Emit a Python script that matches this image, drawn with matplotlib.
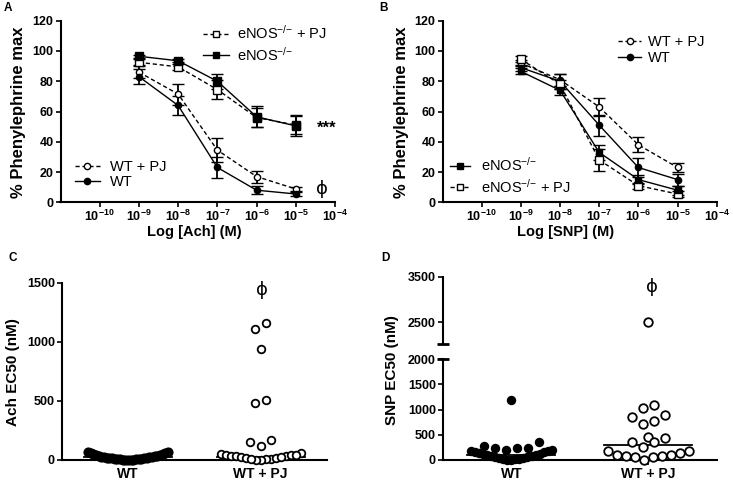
import numpy as np
import matplotlib
matplotlib.use('Agg')
import matplotlib.pyplot as plt
from matplotlib.lines import Line2D
from matplotlib.ticker import NullLocator

plt.rcParams['font.family'] = ['Liberation Sans', 'DejaVu Sans']
plt.rcParams['mathtext.fontset'] = 'custom'
plt.rcParams['mathtext.rm'] = 'Liberation Sans'
plt.rcParams['mathtext.bf'] = 'Liberation Sans:bold'
plt.rcParams['mathtext.default'] = 'regular'

# ---------------- data ----------------
conc = [1e-9, 1e-8, 1e-7, 1e-6, 1e-5]
log_ticks = [1e-10, 1e-9, 1e-8, 1e-7, 1e-6, 1e-5, 1e-4]
log_tick_labels = [r'$\mathbf{10^{-10}}$', r'$\mathbf{10^{-9}}$', r'$\mathbf{10^{-8}}$',
                   r'$\mathbf{10^{-7}}$', r'$\mathbf{10^{-6}}$', r'$\mathbf{10^{-5}}$',
                   r'$\mathbf{10^{-4}}$']
pe_ticks = [0, 20, 40, 60, 80, 100, 120]

# Panel A (Ach)
a_wt = [83, 64, 23, 8, 5.5]
a_wt_err = [5, 6, 7, 2.5, 1.5]
a_wtpj = [86, 71.5, 34.5, 17, 8.8]
a_wtpj_err = [4, 7, 8, 4, 1.5]
a_enos = [96.5, 93.5, 80, 56.5, 50.5]
a_enos_err = [1, 1, 5, 7, 7]
a_enospj = [92.5, 89.5, 74.5, 56, 51]
a_enospj_err = [2, 2, 6, 6, 6]

# Panel B (SNP)
b_wtpj = [92, 81, 63, 38, 23]
b_wtpj_err = [2, 4, 6, 5, 3]
b_wt = [89, 80, 51, 23, 15]
b_wt_err = [2, 5, 7, 6, 4]
b_enos = [86.5, 74, 33, 15, 8]
b_enos_err = [2, 3, 5, 3, 3]
b_enospj = [94.5, 78, 28, 11, 5.5]
b_enospj_err = [2, 3, 7, 2, 2]

# Panel C (Ach EC50, nM)
groups = ['WT', 'WT + PJ']
c_wt = [0, 1, 2, 3, 4, 5, 6, 8, 9, 10, 12, 13, 15, 16, 18, 20, 22, 24, 26, 28,
        30, 33, 36, 40, 44, 48, 52, 56, 60, 64, 68]
c_wtpj = [1155, 1110, 940, 505, 480, 170, 150, 120,
          62, 48, 42, 38, 35, 30, 25, 15, 10, 5, 0, 2, 8, 20, 28, 40, 45]
c_median = [25, 28]
c_ticks = [0, 500, 1000, 1500]

# Panel D (SNP EC50, nM)
d_wt = [1200, 350, 280, 230, 230, 230,
        200, 190, 185, 175, 160, 150, 135, 120, 110, 100, 90, 80, 70, 60, 50,
        40, 30, 20, 15, 10, 5, 0]
d_wtpj = [2500, 1090, 1040, 900, 860, 780, 720, 450, 440, 350, 350, 250,
          170, 170, 130, 90, 90, 80, 70, 60, 50, 0]
d_median = [100, 300]
d_ticks_low = [0, 500, 1000, 1500, 2000]
d_ticks_high = [2500, 3500]

# ---------------- figure ----------------
W, H = 733, 484
fig = plt.figure(figsize=(W / 100, H / 100), dpi=100)


def px_axes(l, t, r, b):
    return fig.add_axes([l / W, 1 - b / H, (r - l) / W, (b - t) / H])


SPW = 1.5
TICKFS = 9


def style(ax, bottom=True):
    for s in ['top', 'right']:
        ax.spines[s].set_visible(False)
    ax.spines['left'].set_linewidth(SPW)
    ax.spines['bottom'].set_linewidth(SPW)
    if not bottom:
        ax.spines['bottom'].set_visible(False)
    ax.tick_params(direction='out', length=3.5, width=1.2, labelsize=TICKFS, pad=1.5)
    for lab in ax.get_yticklabels() + ax.get_xticklabels():
        lab.set_fontweight('bold')


def curve(ax, y, err, filled, marker, dashed, ms):
    ax.errorbar(conc, y, yerr=err, color='black', lw=1.0,
                ls=(0, (3, 2)) if dashed else '-',
                marker=marker, ms=ms, mfc='black' if filled else 'white', mec='black', mew=1.0,
                ecolor='black', elinewidth=1.3, capsize=4.5, capthick=1.3, clip_on=False, zorder=3)


def log_panel(ax):
    ax.set_xscale('log')
    ax.set_xlim(1e-11, 1e-4)
    ax.set_ylim(0, 120)
    ax.set_xticks(log_ticks)
    ax.set_xticklabels(log_tick_labels)
    ax.xaxis.set_minor_locator(NullLocator())
    ax.set_yticks(pe_ticks)
    style(ax)


SUP = '$^{{-}/{-}}$'

# Panel A
axA = px_axes(60.5, 20.7, 335, 202.3)
log_panel(axA)
curve(axA, a_wtpj, a_wtpj_err, False, 'o', True, 4.5)
curve(axA, a_wt, a_wt_err, True, 'o', False, 4.5)
curve(axA, a_enospj, a_enospj_err, False, 's', True, 5.5)
curve(axA, a_enos, a_enos_err, True, 's', False, 5.5)

h_sq_open = Line2D([], [], color='k', lw=1, ls=(0, (3, 2)), marker='s', ms=5, mfc='white', mec='k')
h_sq_fill = Line2D([], [], color='k', lw=1, ls='-', marker='s', ms=5, mfc='k', mec='k')
h_ci_open = Line2D([], [], color='k', lw=1, ls=(0, (3, 2)), marker='o', ms=4.5, mfc='white', mec='k')
h_ci_fill = Line2D([], [], color='k', lw=1, ls='-', marker='o', ms=4.5, mfc='k', mec='k')

legA1 = axA.legend([h_sq_open, h_sq_fill], ['eNOS' + SUP + ' + PJ', 'eNOS' + SUP],
                   loc='upper left', bbox_to_anchor=(203 / W, 1 - 24 / H),
                   bbox_transform=fig.transFigure, frameon=False, fontsize=10.5,
                   handlelength=1.8, handletextpad=0.5, labelspacing=0.25, borderpad=0,
                   borderaxespad=0)
axA.add_artist(legA1)
axA.legend([h_ci_open, h_ci_fill], ['WT + PJ', 'WT'],
           loc='upper left', bbox_to_anchor=(75 / W, 1 - 160 / H),
           bbox_transform=fig.transFigure, frameon=False, fontsize=10.5,
           handlelength=1.7, handletextpad=0.7, labelspacing=0.1, borderpad=0,
           borderaxespad=0)
fig.text(327 / W, 1 - 128 / H, '***', ha='center', va='center', fontsize=12, fontweight='bold')
fig.text(322 / W, 1 - 189 / H, 'ϕ', ha='center', va='center', fontsize=13,
         family=['DejaVu Sans'])

# Panel B
axB = px_axes(442.5, 20.7, 716.7, 202.3)
log_panel(axB)
curve(axB, b_wtpj, b_wtpj_err, False, 'o', True, 4.5)
curve(axB, b_wt, b_wt_err, True, 'o', False, 4.5)
curve(axB, b_enospj, b_enospj_err, False, 's', True, 5.5)
curve(axB, b_enos, b_enos_err, True, 's', False, 4.5)

legB1 = axB.legend([h_ci_open, h_ci_fill], ['WT + PJ', 'WT'],
                   loc='upper left', bbox_to_anchor=(618 / W, 1 - 35 / H),
                   bbox_transform=fig.transFigure, frameon=False, fontsize=10.5,
                   handlelength=1.6, handletextpad=0.45, labelspacing=0.12, borderpad=0,
                   borderaxespad=0)
axB.add_artist(legB1)
axB.legend([h_sq_fill, h_sq_open], ['eNOS' + SUP, 'eNOS' + SUP + ' + PJ'],
           loc='upper left', bbox_to_anchor=(450 / W, 1 - 156 / H),
           bbox_transform=fig.transFigure, frameon=False, fontsize=10.5,
           handlelength=1.4, handletextpad=0.7, labelspacing=0.25, borderpad=0,
           borderaxespad=0)

# axis labels A/B
YLFS = 12
XLFS = 10
fig.text(19 / W, 1 - 112 / H, '% Phenylephrine max', rotation=90, ha='center', va='center',
         fontsize=YLFS, fontweight='bold')
fig.text(401 / W, 1 - 112 / H, '% Phenylephrine max', rotation=90, ha='center', va='center',
         fontsize=YLFS, fontweight='bold')
fig.text(194 / W, 1 - 232 / H, 'Log [Ach] (M)', ha='center', va='center',
         fontsize=XLFS + 0.5, fontweight='bold')
fig.text(566 / W, 1 - 232 / H, 'Log [SNP] (M)', ha='center', va='center',
         fontsize=XLFS + 0.5, fontweight='bold')


# ---------------- scatter helpers ----------------
def row_offsets(values, ax, binh_px, s_max, span_max):
    vals = np.asarray(values, float)
    ypx = ax.transData.transform(np.column_stack([np.zeros_like(vals), vals]))[:, 1]
    order = np.argsort(ypx, kind='stable')
    offs = np.zeros(len(vals))
    grps = []
    cur = [order[0]]
    for i in order[1:]:
        if ypx[i] - ypx[cur[0]] <= binh_px:
            cur.append(i)
        else:
            grps.append(cur)
            cur = [i]
    grps.append(cur)
    for g in grps:
        n = len(g)
        s = s_max if n < 2 else min(s_max, span_max / (n - 1))
        pos = (np.arange(n) - (n - 1) / 2) * s
        pos = sorted(pos, key=lambda p: (round(abs(p), 6), p))
        for idx, p in zip(g, pos):
            offs[idx] = p
    xl = ax.get_xlim()
    ppu = ax.bbox.width / (xl[1] - xl[0])
    return offs / ppu


def half_width(ax, px):
    xl = ax.get_xlim()
    return px / (ax.bbox.width / (xl[1] - xl[0]))


def cat_style(ax):
    ax.set_xlim(-0.5, 1.5)
    ax.set_xticks([0, 1])
    ax.set_xticklabels(groups)
    style(ax)
    for lab in ax.get_xticklabels():
        lab.set_fontsize(10)


# Panel C
axC = px_axes(61.7, 282.7, 327, 460)
axC.set_ylim(0, 1500)
axC.set_yticks(c_ticks)
cat_style(axC)
hw = half_width(axC, 44)
for gi, (vals, filled) in enumerate([(c_wt, True), (c_wtpj, False)]):
    axC.plot([gi - hw, gi + hw], [c_median[gi], c_median[gi]], color='k', lw=1.3, zorder=2)
    xo = row_offsets(vals, axC, 10, 10.5, 80)
    axC.scatter(gi + xo, vals, s=36 if filled else 30, facecolor='k' if filled else 'white',
                edgecolor='k', linewidths=1.3, zorder=3, clip_on=False)
fig.text(262 / W, 1 - 290 / H, 'ϕ', ha='center', va='center', fontsize=13, family=['DejaVu Sans'])
fig.text(13 / W, 1 - 372 / H, 'Ach EC50 (nM)', rotation=90, ha='center', va='center',
         fontsize=11, fontweight='bold')

# Panel D (broken axis)
axDl = px_axes(442.7, 359.3, 717, 460)
axDl.set_ylim(0, 2000)
axDl.set_yticks(d_ticks_low)
cat_style(axDl)
axDh = px_axes(442.7, 276.7, 717, 344)
axDh.set_ylim(2025, 3500)
axDh.set_xlim(-0.5, 1.5)
axDh.set_yticks(d_ticks_high)
axDh.set_xticks([])
style(axDh, bottom=False)
axDh.patch.set_alpha(0)
# break caps
axDh.plot([-6 / 274.3, 6 / 274.3], [0, 0], transform=axDh.transAxes, color='k', lw=2,
          clip_on=False, solid_capstyle='butt')
axDl.plot([-6 / 274.3, 6 / 274.3], [1, 1], transform=axDl.transAxes, color='k', lw=2,
          clip_on=False, solid_capstyle='butt')

hw = half_width(axDl, 44)
for gi, (vals, filled) in enumerate([(d_wt, True), (d_wtpj, False)]):
    axDl.plot([gi - hw, gi + hw], [d_median[gi], d_median[gi]], color='k', lw=1.3, zorder=2)
    vals = np.asarray(vals, float)
    low = vals[vals <= 2000]
    high = vals[vals > 2000]
    xo = row_offsets(low, axDl, 10, 11, 81)
    ms = 30 if filled else 38
    axDl.scatter(gi + xo, low, s=ms, facecolor='k' if filled else 'white',
                 edgecolor='k', linewidths=1.3, zorder=3, clip_on=False)
    if len(high):
        xo = row_offsets(high, axDh, 10, 11, 81)
        axDh.scatter(gi + xo, high, s=ms, facecolor='k' if filled else 'white',
                     edgecolor='k', linewidths=1.3, zorder=3, clip_on=False)
fig.text(652 / W, 1 - 287 / H, 'ϕ', ha='center', va='center', fontsize=13, family=['DejaVu Sans'])
fig.text(392 / W, 1 - 370 / H, 'SNP EC50 (nM)', rotation=90, ha='center', va='center',
         fontsize=11, fontweight='bold')

# panel letters
for x, y, t in [(8, 8, 'A'), (383, 8, 'B'), (13, 258, 'C'), (385, 258, 'D')]:
    fig.text(x / W, 1 - y / H, t, ha='center', va='center', fontsize=8.5, fontweight='bold')

fig.savefig('out.png', dpi=100)
